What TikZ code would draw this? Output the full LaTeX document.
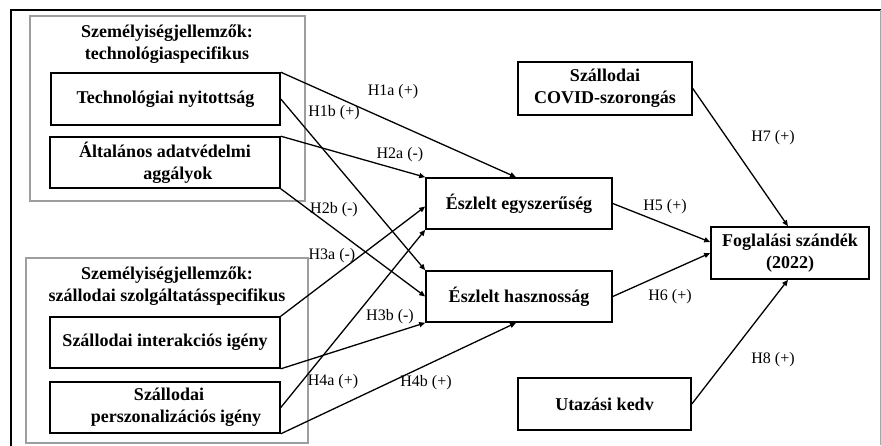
\documentclass[tikz,border=0pt]{standalone}
\usepackage{fontspec}
\setmainfont{Liberation Serif}
\usetikzlibrary{arrows.meta,calc}
\begin{document}
\begin{tikzpicture}[x=1pt,y=-1pt,
  box/.style={draw=black, line width=1.6pt, align=center, inner sep=0pt,
    font=\fontsize{18}{22}\selectfont\bfseries},
  grp/.style={draw=black!38, line width=1.3pt, inner sep=0pt},
  ttl/.style={align=center, inner sep=0pt, font=\fontsize{18}{22}\selectfont\bfseries},
  lbl/.style={inner sep=0pt, font=\fontsize{16}{19}\selectfont},
  arr/.style={line width=1.3pt, -{Triangle[length=6pt,width=5pt]}}]
\useasboundingbox (0,0) rectangle (881,445);
% outer frame
\coordinate (fbl) at (11,445);
\coordinate (ftl) at (11,10);
\coordinate (ftr) at (880,10);
\coordinate (fbr) at (880,445);
\draw[line width=2pt, line cap=rect] (fbl) -- (ftl) -- (ftr);
\draw[line width=1pt, black!35] (ftr) -- (fbr);
% group boxes
\node[grp, minimum width=275pt, minimum height=185pt] (g1) at (167.5,108.5) {};
\node[grp, minimum width=282pt, minimum height=185pt] (g2) at (167,350.5) {};
\node[ttl] (t1) at (167,44) {Személyiségjellemzők:\\technológiaspecifikus};
\node[ttl] (t2) at (167,286) {Személyiségjellemzők:\\szállodai szolgáltatásspecifikus};
% boxes
\node[box, minimum width=229pt, minimum height=52pt] (tn) at (165.5,99) {Technológiai nyitottság};
\node[box, minimum width=230pt, minimum height=51pt] (aa) at (165,162.5) {Általános adatvédelmi\\\hspace*{26pt}aggályok};
\node[box, minimum width=230pt, minimum height=51pt] (si) at (165,342.5) {Szállodai interakciós igény};
\node[box, minimum width=230pt, minimum height=51pt] (sp) at (165,407.5) {\hspace*{8pt}Szállodai\\\hspace*{22pt}perszonalizációs igény};
\node[box, minimum width=186pt, minimum height=51pt] (ee) at (519,203.5) {Észlelt egyszerűség};
\node[box, minimum width=186pt, minimum height=51pt] (eh) at (519,296.5) {Észlelt hasznosság};
\node[box, minimum width=174pt, minimum height=53pt] (cov) at (605,88.5) {Szállodai\\COVID-szorongás};
\node[box, minimum width=158pt, minimum height=52pt] (fs) at (790,253) {Foglalási szándék\\(2022)};
\node[box, minimum width=173pt, minimum height=52pt] (uk) at (604.5,404) {Utazási kedv};
% arrows
\draw[arr] (tn.north east) -- ([xshift=-3pt]ee.north);
\draw[arr] (tn.east) -- (eh.north west);
\draw[arr] (aa.north east) -- (ee.north west);
\draw[arr] (aa.south east) -- (eh.west);
\draw[arr] (si.north east) -- ([yshift=-3pt]ee.west);
\draw[arr] (si.south east) -- (eh.south west);
\draw[arr] (sp.east) -- (ee.south west);
\draw[arr] (sp.south east) -- ([xshift=-3pt]eh.south);
\draw[arr] (ee.east) -- ([yshift=11pt]fs.west);
\draw[arr] (eh.east) -- (fs.west);
\draw[arr] (cov.east) -- ([xshift=-2pt]fs.north);
\draw[arr] (uk.east) -- ([xshift=-2pt]fs.south);
% labels
\node[lbl] (l1a) at (393,92) {H1a (+)};
\node[lbl] (l1b) at (334,113) {H1b (+)};
\node[lbl] (l2a) at (400,155) {H2a (-)};
\node[lbl] (l2b) at (334,210) {H2b (-)};
\node[lbl] (l3a) at (332,256) {H3a (-)};
\node[lbl] (l3b) at (390,317) {H3b (-)};
\node[lbl] (l4a) at (333,382) {H4a (+)};
\node[lbl] (l4b) at (426,383) {H4b (+)};
\node[lbl] (l5) at (665,207) {H5 (+)};
\node[lbl] (l6) at (670,297) {H6 (+)};
\node[lbl] (l7) at (773,138) {H7 (+)};
\node[lbl] (l8) at (773,360) {H8 (+)};
\end{tikzpicture}
\end{document}
